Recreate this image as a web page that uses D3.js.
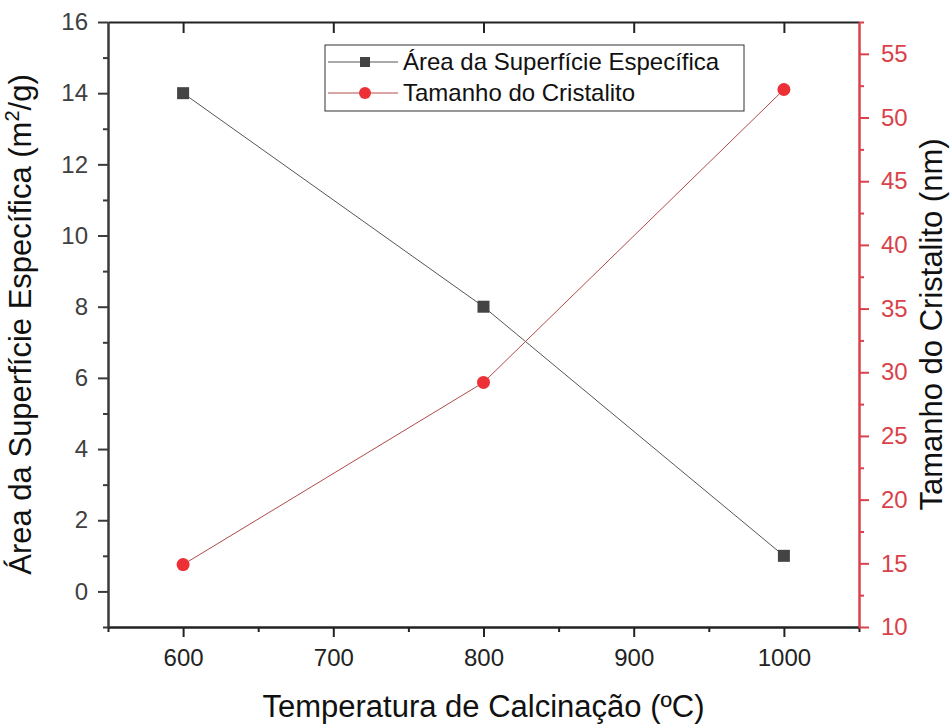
<!DOCTYPE html>
<html>
<head>
<meta charset="utf-8">
<script src="https://cdn.jsdelivr.net/npm/d3@7"></script>
<style>
  body { margin: 0; background: #fff; }
  text { font-family: "Liberation Sans", Arial, sans-serif; }
</style>
</head>
<body>
<div id="chart"></div>
<script>
// Data
const temperatures = [600, 800, 1000];
const surfaceArea = [14, 8, 1];          // m2/g, left axis
const crystalSize = [14.9, 29.2, 52.2];  // nm, right axis

const xTicks = [600, 700, 800, 900, 1000];
const xMinorTicks = [550, 650, 750, 850, 950, 1050];
const leftTicks = [0, 2, 4, 6, 8, 10, 12, 14, 16];
const leftMinorTicks = [-1, 1, 3, 5, 7, 9, 11, 13, 15];
const rightTicks = [10, 15, 20, 25, 30, 35, 40, 45, 50, 55];
const rightMinorTicks = [12.5, 17.5, 22.5, 27.5, 32.5, 37.5, 42.5, 47.5, 52.5, 57.5];

const seriesNames = ["Área da Superfície Específica", "Tamanho do Cristalito"];

// Set dimensions and margins
const margin = {top: 22, right: 93, bottom: 98, left: 108},
    width = 952 - margin.left - margin.right,
    height = 725 - margin.top - margin.bottom;

const svg = d3.select("#chart")
  .append("svg")
    .attr("width", width + margin.left + margin.right)
    .attr("height", height + margin.top + margin.bottom)
  .append("g")
    .attr("transform", `translate(${margin.left},${margin.top})`);

const red = "#d9424a";
const axisGray = "#3a3a3a";

// Scales
const x = d3.scaleLinear().domain([550, 1050]).range([0, width]);
const yLeft = d3.scaleLinear().domain([-1, 16]).range([height, 0]);
const yRight = d3.scaleLinear().domain([10, 57.5]).range([height, 0]);

function styleAxis(g, color) {
  g.select(".domain").attr("stroke", color).attr("stroke-width", 2);
  g.selectAll(".tick line").attr("stroke", color).attr("stroke-width", 2);
  g.selectAll(".tick text")
    .attr("fill", color === red ? red : "#404040")
    .style("font-size", "24px")
    .style("font-family", "'Liberation Sans', Arial, sans-serif");
}

// Top border with inward ticks
svg.append("g")
    .call(d3.axisTop(x).tickValues(xTicks).tickSize(-11).tickFormat("").tickSizeOuter(0))
    .call(g => styleAxis(g, "#222"));

// Bottom axis: minor then major
svg.append("g")
    .attr("transform", `translate(0,${height})`)
    .call(d3.axisBottom(x).tickValues(xMinorTicks).tickSize(5).tickFormat("").tickSizeOuter(0))
    .call(g => styleAxis(g, "#222"));
svg.append("g")
    .attr("transform", `translate(0,${height})`)
    .call(d3.axisBottom(x).tickValues(xTicks).tickSize(10).tickPadding(12)
      .tickFormat(d3.format("d")).tickSizeOuter(0))
    .call(g => styleAxis(g, "#222"))
    .call(g => g.selectAll(".tick text").attr("fill", "#222"));

// Left axis
svg.append("g")
    .call(d3.axisLeft(yLeft).tickValues(leftMinorTicks).tickSize(5).tickFormat("").tickSizeOuter(0))
    .call(g => styleAxis(g, axisGray));
svg.append("g")
    .call(d3.axisLeft(yLeft).tickValues(leftTicks).tickSize(10).tickPadding(10).tickSizeOuter(0))
    .call(g => styleAxis(g, axisGray));

// Right axis (red)
svg.append("g")
    .attr("transform", `translate(${width},0)`)
    .call(d3.axisRight(yRight).tickValues(rightMinorTicks).tickSize(5).tickFormat("").tickSizeOuter(0))
    .call(g => styleAxis(g, red));
svg.append("g")
    .attr("transform", `translate(${width},0)`)
    .call(d3.axisRight(yRight).tickValues(rightTicks).tickSize(10).tickPadding(12).tickSizeOuter(0))
    .call(g => styleAxis(g, red));

// Axis titles
svg.append("text")
    .attr("x", width / 2)
    .attr("y", height + 90)
    .attr("text-anchor", "middle")
    .style("font-size", "31px")
    .attr("fill", "#111")
    .text("Temperatura de Calcinação (ºC)");

const leftTitle = svg.append("text")
    .attr("transform", `translate(${-77},${height / 2}) rotate(-90)`)
    .attr("text-anchor", "middle")
    .style("font-size", "31px")
    .attr("fill", "#111");
leftTitle.append("tspan").text("Área da Superfície Específica (m");
leftTitle.append("tspan").attr("dy", -12).style("font-size", "20px").text("2");
leftTitle.append("tspan").attr("dy", 12).text("/g)");

svg.append("text")
    .attr("transform", `translate(${width + 83},${height / 2}) rotate(-90)`)
    .attr("text-anchor", "middle")
    .style("font-size", "31px")
    .attr("fill", "#111")
    .text("Tamanho do Cristalito (nm)");

// Lines
const areaPoints = temperatures.map((t, i) => [t, surfaceArea[i]]);
const sizePoints = temperatures.map((t, i) => [t, crystalSize[i]]);

svg.append("path")
    .datum(areaPoints)
    .attr("fill", "none")
    .attr("stroke", "#555")
    .attr("stroke-width", 1)
    .attr("d", d3.line().x(d => x(d[0])).y(d => yLeft(d[1])));

svg.append("path")
    .datum(sizePoints)
    .attr("fill", "none")
    .attr("stroke", "#b24a4a")
    .attr("stroke-width", 1)
    .attr("d", d3.line().x(d => x(d[0])).y(d => yRight(d[1])));

// Markers
svg.selectAll("rect.area")
  .data(areaPoints)
  .enter()
  .append("rect")
    .attr("class", "area")
    .attr("x", d => x(d[0]) - 6)
    .attr("y", d => yLeft(d[1]) - 6)
    .attr("width", 12)
    .attr("height", 12)
    .attr("fill", "#444");

svg.selectAll("circle.size")
  .data(sizePoints)
  .enter()
  .append("circle")
    .attr("class", "size")
    .attr("cx", d => x(d[0]))
    .attr("cy", d => yRight(d[1]))
    .attr("r", 6.5)
    .attr("fill", "#ec3035");

// Legend
const legend = svg.append("g").attr("transform", `translate(${325 - margin.left},${45 - margin.top})`);
legend.append("rect")
    .attr("width", 419)
    .attr("height", 66)
    .attr("fill", "#fff")
    .attr("stroke", "#333")
    .attr("stroke-width", 1);

const legendColors = ["#555", "#b24a4a"];
seriesNames.forEach((name, i) => {
  const cy = 17 + i * 31;
  legend.append("line")
      .attr("x1", 3).attr("x2", 73)
      .attr("y1", cy).attr("y2", cy)
      .attr("stroke", legendColors[i])
      .attr("stroke-width", 1);
  if (i === 0) {
    legend.append("rect")
        .attr("x", 40 - 5).attr("y", cy - 5)
        .attr("width", 10).attr("height", 10)
        .attr("fill", "#444");
  } else {
    legend.append("circle")
        .attr("cx", 40).attr("cy", cy).attr("r", 6)
        .attr("fill", "#ec3035");
  }
  legend.append("text")
      .attr("x", 78)
      .attr("y", cy)
      .attr("dy", "0.35em")
      .style("font-size", "24px")
      .attr("fill", "#111")
      .text(name);
});
</script>
</body>
</html>
